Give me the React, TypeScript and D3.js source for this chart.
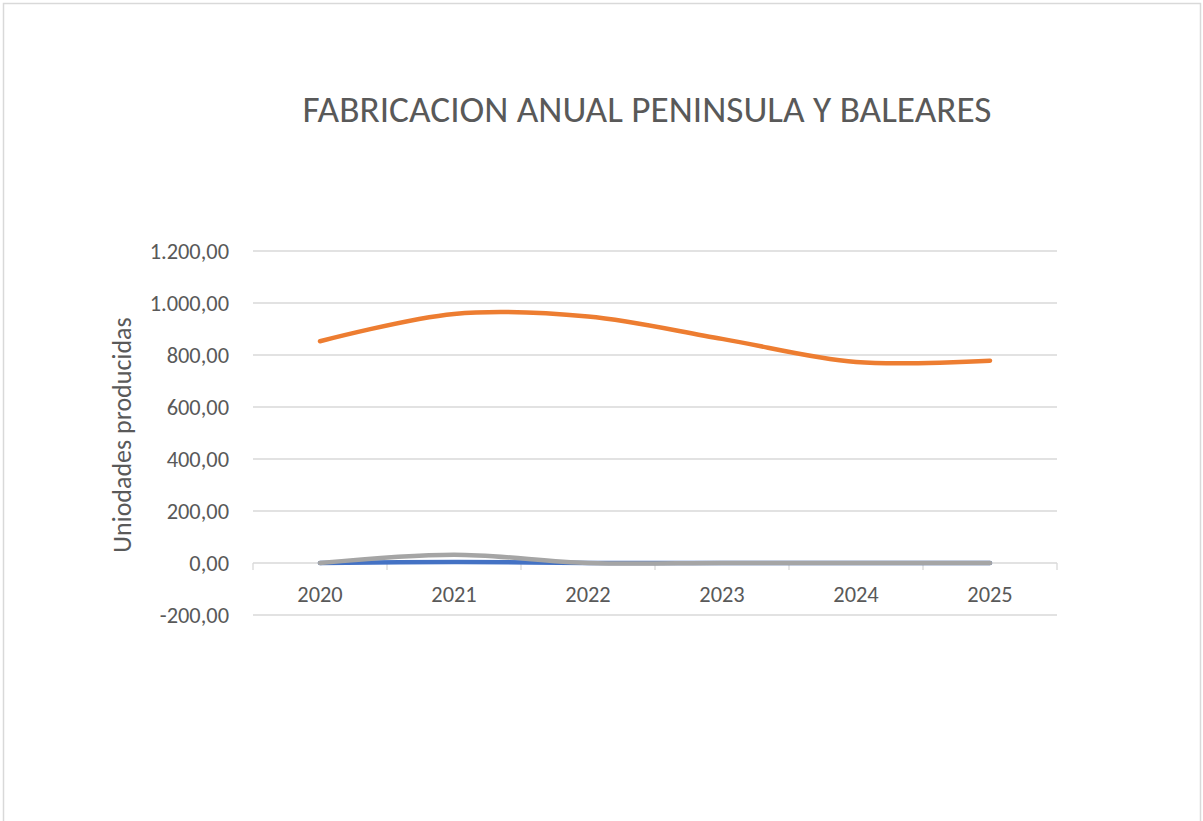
import React, { useEffect, useRef } from 'react';
import * as d3 from 'd3';

// datos
const years = ['2020', '2021', '2022', '2023', '2024', '2025'];
const serieAzul = [0, 4, 0, 0, 0, 0];
const serieNaranja = [853, 958, 948, 862, 773, 778];
const serieGris = [0, 32, 0, 0, 0, 0];
const yTicks = [-200, 0, 200, 400, 600, 800, 1000, 1200];

const App = () => {
  const chartRef = useRef<SVGSVGElement>(null);

  useEffect(() => {
    const svg = d3.select(chartRef.current);
    svg.selectAll('*').remove();

    const left = 253, right = 1057;
    const font = 'Calibri, Carlito, sans-serif';

    // marco del grafico
    svg.append('rect')
      .attr('x', 3.5).attr('y', 3.5)
      .attr('width', 1197).attr('height', 830)
      .attr('fill', '#fff').attr('stroke', '#d9d9d9').attr('stroke-width', 1.5);

    const x = d3.scaleBand().domain(years).range([left, right]);
    const y = d3.scaleLinear().domain([-200, 1200]).range([615, 251]);

    // titulo
    svg.append('text')
      .attr('x', 647).attr('y', 122)
      .attr('text-anchor', 'middle')
      .attr('font-family', font).attr('font-size', 37.3)
      .attr('fill', '#595959')
      .text('FABRICACION ANUAL PENINSULA Y BALEARES');

    // lineas de cuadricula
    svg.append('g')
      .selectAll('line')
      .data(yTicks.filter(d => d !== 0))
      .enter()
      .append('line')
      .attr('x1', left).attr('x2', right)
      .attr('y1', d => y(d)).attr('y2', d => y(d))
      .attr('stroke', '#d9d9d9').attr('stroke-width', 1.3);

    // etiquetas eje Y
    const fmt = (d: number) =>
      d3.format(',.2f')(d).replace(/,/g, '#').replace('.', ',').replace(/#/g, '.').replace('−', '-');
    svg.append('g')
      .selectAll('text')
      .data(yTicks)
      .enter()
      .append('text')
      .attr('x', 229).attr('y', d => y(d) + 7.5)
      .attr('text-anchor', 'end')
      .attr('font-family', font).attr('font-size', 22.4)
      .attr('fill', '#595959')
      .text(d => fmt(d));

    // titulo eje Y
    svg.append('text')
      .attr('transform', `translate(131, 435) rotate(-90)`)
      .attr('text-anchor', 'middle')
      .attr('font-family', font).attr('font-size', 26)
      .attr('fill', '#595959')
      .text('Uniodades producidas');

    // eje de categorias en 0
    const y0 = y(0);
    svg.append('line')
      .attr('x1', left).attr('x2', right)
      .attr('y1', y0).attr('y2', y0)
      .attr('stroke', '#d9d9d9').attr('stroke-width', 1.3);

    const bounds = years.map(d => x(d)!).concat([right]);
    svg.append('g')
      .selectAll('line')
      .data(bounds)
      .enter()
      .append('line')
      .attr('x1', d => d).attr('x2', d => d)
      .attr('y1', y0).attr('y2', y0 + 7)
      .attr('stroke', '#d9d9d9').attr('stroke-width', 1.3);

    svg.append('g')
      .selectAll('text')
      .data(years)
      .enter()
      .append('text')
      .attr('x', d => x(d)! + x.bandwidth() / 2)
      .attr('y', 602)
      .attr('text-anchor', 'middle')
      .attr('font-family', font).attr('font-size', 22.4)
      .attr('fill', '#595959')
      .text(d => d);

    // series
    const line = d3.line<number>()
      .x((_, i) => x(years[i])! + x.bandwidth() / 2)
      .y(d => y(d))
      .curve(d3.curveCardinal.tension(0));

    const series = [
      { values: serieAzul, color: '#4472C4' },
      { values: serieNaranja, color: '#ED7D31' },
      { values: serieGris, color: '#A5A5A5' },
    ];

    svg.append('g')
      .selectAll('path')
      .data(series)
      .enter()
      .append('path')
      .attr('d', d => line(d.values))
      .attr('fill', 'none')
      .attr('stroke', d => d.color)
      .attr('stroke-width', 4.5)
      .attr('stroke-linecap', 'round')
      .attr('stroke-linejoin', 'round');
  }, []);

  return (
    <svg
      ref={chartRef}
      width={1203}
      height={821}
      style={{ position: 'absolute', left: 0, top: 0 }}
    />
  );
};

export default App;
